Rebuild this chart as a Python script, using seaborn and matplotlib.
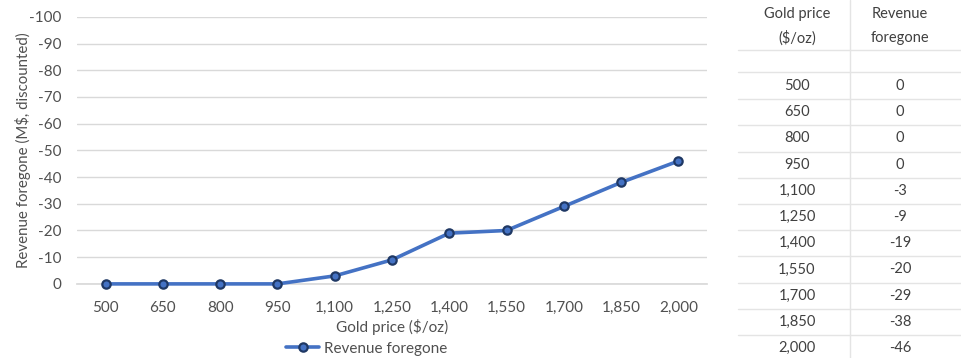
import matplotlib
matplotlib.use("Agg")
import matplotlib.pyplot as plt
import seaborn as sns
import pandas as pd
from matplotlib.lines import Line2D

# Revenue foregone by gold price scenario
gold_price = [500, 650, 800, 950, 1100, 1250, 1400, 1550, 1700, 1850, 2000]
revenue_foregone = [0, 0, 0, 0, -3, -9, -19, -20, -29, -38, -46]
y_ticks = [0, -10, -20, -30, -40, -50, -60, -70, -80, -90, -100]

price_labels = [f"{p:,}" for p in gold_price]
df = pd.DataFrame({"price": price_labels, "revenue": revenue_foregone})

sns.set_theme(style="white")
plt.rcParams["font.family"] = ["Lato", "DejaVu Sans"]

text_col = "#505050"
line_col = "#4472C4"
edge_col = "#1F3864"

fig = plt.figure(figsize=(9.62, 3.58), dpi=100)
ax = fig.add_axes([0.080, 0.207, 0.655, 0.746])

sns.lineplot(data=df, x="price", y="revenue", ax=ax, sort=False,
             color=line_col, linewidth=2.6, marker="o", markersize=6,
             markerfacecolor=line_col, markeredgecolor=edge_col,
             markeredgewidth=1.6, legend=False, clip_on=False, zorder=5)

ax.set_xlim(-0.5, len(gold_price) - 0.5)
ax.set_ylim(0, -100)
ax.set_yticks(y_ticks)
ax.set_yticklabels([str(v) for v in y_ticks])
ax.yaxis.grid(True, color="#d9d9d9", linewidth=1.0)
ax.xaxis.grid(False)
for side in ["top", "right", "left"]:
    ax.spines[side].set_visible(False)
ax.spines["bottom"].set_color("#d9d9d9")
ax.tick_params(axis="y", length=0, labelsize=11, colors=text_col, pad=11)
ax.tick_params(axis="x", length=0, labelsize=11, colors=text_col, pad=12)
ax.set_xlabel("Gold price ($/oz)", fontsize=11, color=text_col, labelpad=3)
ax.set_ylabel("Revenue foregone (M$, discounted)", fontsize=10.8,
              color=text_col, labelpad=-1)

handle = Line2D([], [], color=line_col, linewidth=2.6, marker="o",
                markersize=6, markerfacecolor=line_col,
                markeredgecolor=edge_col, markeredgewidth=1.6)
fig.legend([handle], ["Revenue foregone"], loc="center",
           bbox_to_anchor=(0.381, 0.026), frameon=False, fontsize=11,
           labelcolor=text_col, handlelength=2.2, handletextpad=0.3)

# Side table of the same values
W, H = 962, 358
col1_x, col2_x, sep_x = 797, 900, 850
table_col = "#404040"
grid_col = "#e4e4e4"
table_fs = 10.5

def fx(px):
    return px / W

def fy(py):
    return 1 - py / H

fig.add_artist(Line2D([fx(sep_x), fx(sep_x)], [fy(0), fy(358)],
                      color=grid_col, linewidth=1.0))
fig.text(fx(col1_x), fy(14), "Gold price", ha="center", va="center",
         fontsize=table_fs, color=table_col)
fig.text(fx(col1_x), fy(38), "($/oz)", ha="center", va="center",
         fontsize=table_fs, color=table_col)
fig.text(fx(col2_x), fy(14), "Revenue", ha="center", va="center",
         fontsize=table_fs, color=table_col)
fig.text(fx(col2_x), fy(38), "foregone", ha="center", va="center",
         fontsize=table_fs, color=table_col)

row_h = 26.2
first_row = 86
for boundary in [50, 72]:
    fig.add_artist(Line2D([fx(738), fx(962)], [fy(boundary), fy(boundary)],
                          color=grid_col, linewidth=1.0))
for i, (p, r) in enumerate(zip(price_labels, revenue_foregone)):
    yc = first_row + i * row_h
    fig.text(fx(col1_x), fy(yc), p, ha="center", va="center",
             fontsize=table_fs, color=table_col)
    fig.text(fx(col2_x), fy(yc), str(r), ha="center", va="center",
             fontsize=table_fs, color=table_col)
    yb = yc + row_h / 2
    if i < len(price_labels) - 1:
        fig.add_artist(Line2D([fx(738), fx(962)], [fy(yb), fy(yb)],
                              color=grid_col, linewidth=1.0))

fig.savefig("out.png", dpi=100, facecolor="white")
